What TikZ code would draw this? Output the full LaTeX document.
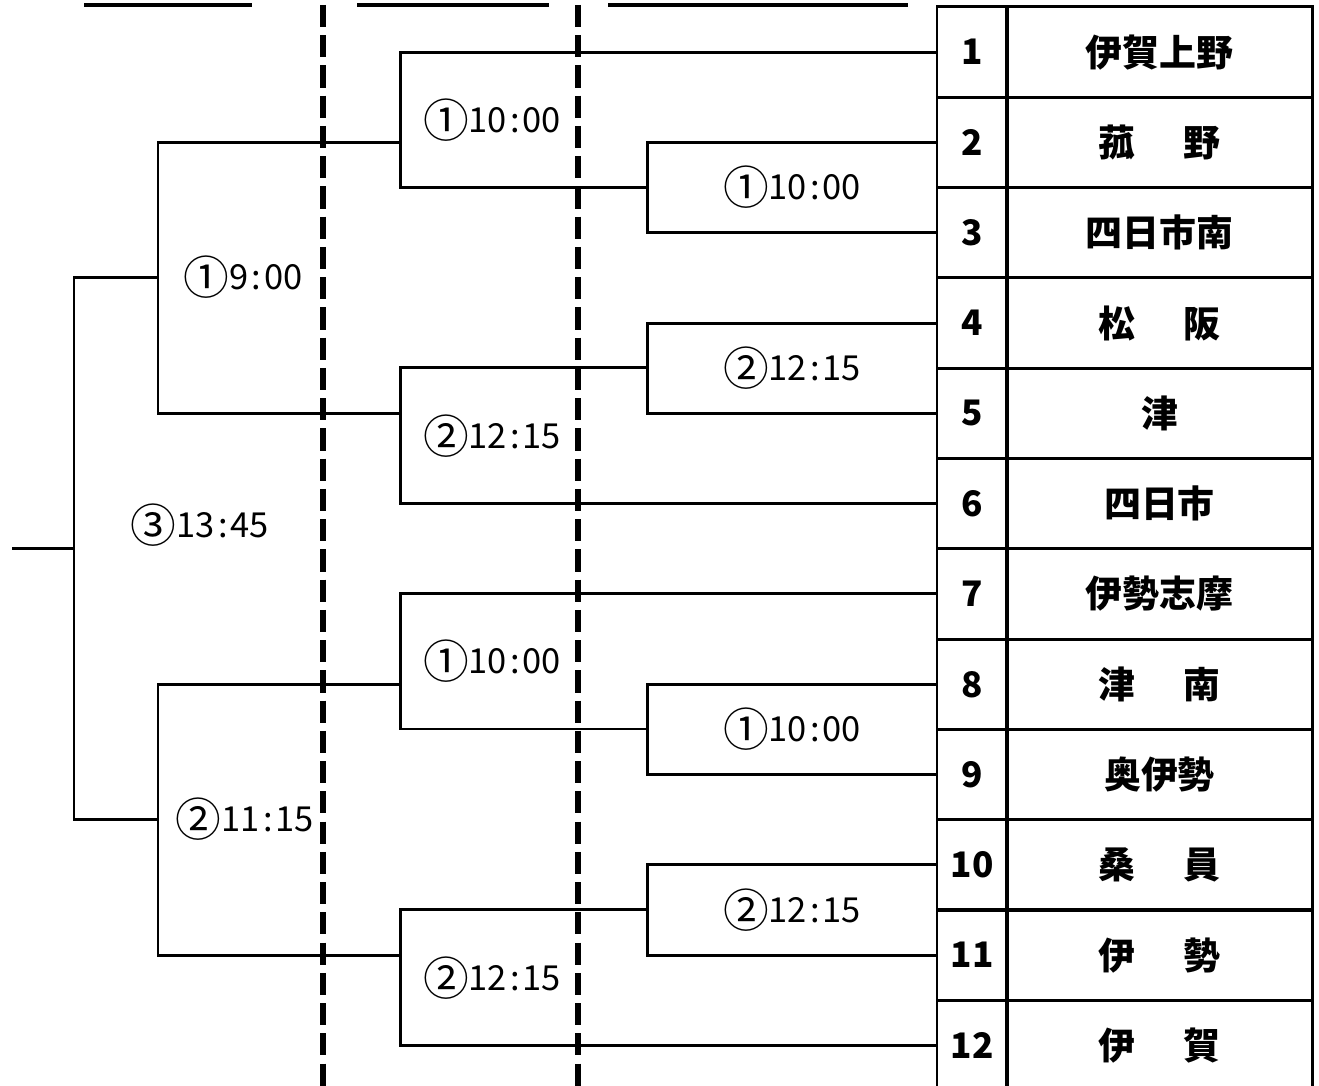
\documentclass[tikz,border=0pt]{standalone}
\usepackage{fontspec}
\newfontfamily\jp{Noto Sans CJK JP}
\newcommand{\gap}{\hspace{1.3em}}
\newcommand{\rnd}[1]{\raisebox{-0.14em}{\fontsize{13}{12}\selectfont #1}}
\newcommand{\cl}{\kern0.09em:\kern0.09em}
\begin{document}
\begin{tikzpicture}[x=0.01cm,y=-0.01cm,
  line/.style={line width=0.85pt},
  divider/.style={line width=1.45pt,dash pattern=on 6.3pt off 2.3pt},
  numcell/.style={draw,line width=0.85pt,rectangle,minimum width=0.7cm,
    minimum height=0.903cm,inner sep=0pt,outer sep=0pt,
    font=\jp\bfseries\fontsize{10}{12}\selectfont},
  namecell/.style={draw,line width=0.85pt,rectangle,minimum width=3.05cm,
    minimum height=0.903cm,inner sep=0pt,outer sep=0pt,
    font=\jp\bfseries\fontsize{10.5}{12}\selectfont},
  time/.style={font=\jp\fontsize{9.8}{12}\selectfont}]
  \useasboundingbox (0,0) rectangle (1319,1086);
  \clip (0,0) rectangle (1319,1086);

  % column dividers and heading underlines
  \draw[divider] (323,5) -- (323,1090);
  \draw[divider] (578,5) -- (578,1090);
  \draw[line width=0.9pt] (84,5) -- (252,5);
  \draw[line width=0.9pt] (357,5) -- (549,5);
  \draw[line width=0.9pt] (608,5) -- (908,5);

  % table
  \foreach \num/\name in {1/伊賀上野, 2/菰\gap 野, 3/四日市南, 4/松\gap 阪,
      5/津, 6/四日市, 7/伊勢志摩, 8/津\gap 南, 9/奥伊勢, 10/桑\gap 員,
      11/伊\gap 勢, 12/伊\gap 賀} {
    \node[numcell] (n\num) at (972,{7+90.3*(\num-0.5)}) {\num};
    \node[namecell] (t\num) at (1159.5,{7+90.3*(\num-0.5)}) {\name};
  }

  % junctions
  \coordinate (m1) at (647,187.6);
  \coordinate (m2) at (647,368);
  \coordinate (m3) at (647,729);
  \coordinate (m4) at (647,909.5);
  \coordinate (s1) at (400,0 |- n2.west);
  \coordinate (s2) at (400,0 |- n5.west);
  \coordinate (s3) at (400,0 |- n8.west);
  \coordinate (s4) at (400,0 |- n11.west);
  \coordinate (q1) at (158,277.7);
  \coordinate (q2) at (158,819.5);
  \coordinate (f) at (74,548.5);
  \coordinate (w) at (12,548.5);

  % first round
  \draw[line] (n2.west) -| (m1) |- (n3.west);
  \draw[line] (n4.west) -| (m2) |- (n5.west);
  \draw[line] (n8.west) -| (m3) |- (n9.west);
  \draw[line] (n10.west) -| (m4) |- (n11.west);

  % second round
  \draw[line] (n1.west) -| (s1) |- (m1);
  \draw[line] (m2) -| (s2) |- (n6.west);
  \draw[line] (n7.west) -| (s3) |- (m3);
  \draw[line] (m4) -| (s4) |- (n12.west);

  % semi finals and final
  \draw[line] (s1) -| (q1) |- (s2);
  \draw[line] (s3) -| (q2) |- (s4);
  \draw[line] (q1) -| (f) |- (q2);
  \draw[line] (f) -- (w);

  % times
  \node[time] (l1) at (492,120) {\rnd{①}10\cl 00};
  \node[time] (l2) at (792,187) {\rnd{①}10\cl 00};
  \node[time] (l3) at (792,368) {\rnd{②}12\cl 15};
  \node[time] (l4) at (492,436) {\rnd{②}12\cl 15};
  \node[time] (l5) at (243,277) {\rnd{①}9\cl 00};
  \node[time] (l6) at (200,525) {\rnd{③}13\cl 45};
  \node[time] (l7) at (492,661) {\rnd{①}10\cl 00};
  \node[time] (l8) at (792,729) {\rnd{①}10\cl 00};
  \node[time] (l9) at (245,819) {\rnd{②}11\cl 15};
  \node[time] (l10) at (792,910) {\rnd{②}12\cl 15};
  \node[time] (l11) at (492,978) {\rnd{②}12\cl 15};
\end{tikzpicture}
\end{document}
